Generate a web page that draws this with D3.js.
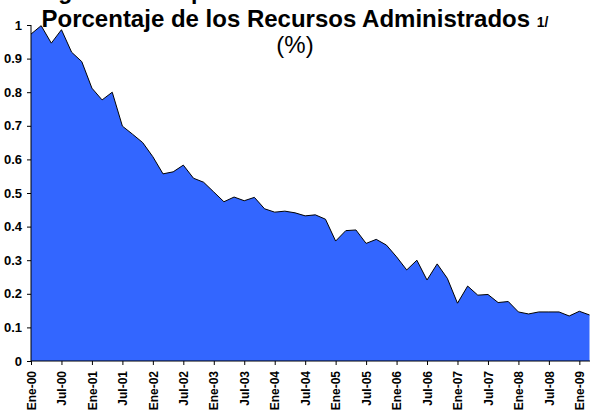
<!DOCTYPE html>
<html>
<head>
<meta charset="utf-8">
<script src="https://cdn.jsdelivr.net/npm/d3@7"></script>
<style>
  html, body { margin: 0; padding: 0; background: #fff; }
  svg { display: block; }
  text { font-family: Arial, "Liberation Sans", sans-serif; }
</style>
</head>
<body>
<svg id="chart" width="590" height="410"></svg>
<script>
// ---- data ----
const years = ["00","01","02","03","04","05","06","07","08","09"];
const months = ["Ene","Mar","May","Jul","Sep","Nov"];
const values = [
  0.973, 0.998, 0.946, 0.986, 0.919, 0.891,
  0.812, 0.777, 0.800, 0.699, 0.675, 0.650,
  0.608, 0.557, 0.563, 0.583, 0.544, 0.532,
  0.503, 0.474, 0.488, 0.477, 0.487, 0.453,
  0.443, 0.446, 0.441, 0.432, 0.435, 0.422,
  0.357, 0.388, 0.390, 0.350, 0.362, 0.345,
  0.310, 0.271, 0.300, 0.241, 0.289, 0.246,
  0.172, 0.223, 0.196, 0.198, 0.174, 0.177,
  0.146, 0.140, 0.146, 0.146, 0.146, 0.134,
  0.148, 0.137
];
const categories = [];
years.forEach(y => months.forEach(m => categories.push(m + "-" + y)));
categories.length = values.length;
const tickLabels = categories.filter((c, i) => i % 3 === 0);
const yTicks = [0,0.1,0.2,0.3,0.4,0.5,0.6,0.7,0.8,0.9,1];
const titleLine1 = "Ingresos de Operación sobre Saldo Total como";
const titleLine2 = "Porcentaje de los Recursos Administrados";
const titleNote = "1/";
const titleLine3 = "(%)";

// ---- chart ----
const svg = d3.select("#chart");
const x = d3.scalePoint().domain(categories).range([31, 589.5]);
const y = d3.scaleLinear().domain([0, 1]).range([361, 25]);

const data = categories.map((c, i) => ({c, v: values[i]}));

svg.append("path")
  .datum(data)
  .attr("fill", "#3366ff")
  .attr("d", d3.area().x(d => x(d.c)).y0(y(0)).y1(d => y(d.v)));

svg.append("path")
  .datum(data)
  .attr("fill", "none")
  .attr("stroke", "#000")
  .attr("stroke-width", 1)
  .attr("stroke-linejoin", "miter")
  .attr("d", d3.line().x(d => x(d.c)).y(d => y(d.v)));

// y axis
const yAxis = svg.append("g")
  .attr("transform", "translate(31,0)")
  .call(d3.axisLeft(y).tickValues(yTicks).tickSize(4).tickPadding(5)
        .tickFormat(d => String(+d.toFixed(1))));
yAxis.select(".domain").attr("stroke", "#000").attr("d", "M0,25V361");
yAxis.selectAll("text").attr("font-size", 13).attr("font-weight", "bold")
  .attr("fill", "#000").attr("font-family", "Arial, 'Liberation Sans', sans-serif");

// x axis
const xAxis = svg.append("g")
  .attr("transform", "translate(0,361)")
  .call(d3.axisBottom(x).tickValues(tickLabels).tickSize(4).tickSizeOuter(0));
xAxis.select(".domain").attr("stroke", "#000").attr("d", "M31,0H590");
xAxis.selectAll("text")
  .attr("font-size", 12).attr("font-weight", "bold").attr("fill", "#000")
  .attr("font-family", "Arial, 'Liberation Sans', sans-serif")
  .attr("transform", "rotate(-90)")
  .attr("text-anchor", "end")
  .attr("x", -10).attr("y", 0).attr("dy", "0.35em");

// titles
svg.append("text").attr("x", 295).attr("y", -1).attr("text-anchor", "middle")
  .attr("font-size", 23).attr("font-weight", "bold").text(titleLine1);
const t2 = svg.append("text").attr("x", 295).attr("y", 27).attr("text-anchor", "middle")
  .attr("font-weight", "bold");
t2.append("tspan").attr("font-size", 24).text(titleLine2 + " ");
t2.append("tspan").attr("font-size", 14).text(titleNote);
svg.append("text").attr("x", 295).attr("y", 53).attr("text-anchor", "middle")
  .attr("font-size", 24).text(titleLine3);
</script>
</body>
</html>
